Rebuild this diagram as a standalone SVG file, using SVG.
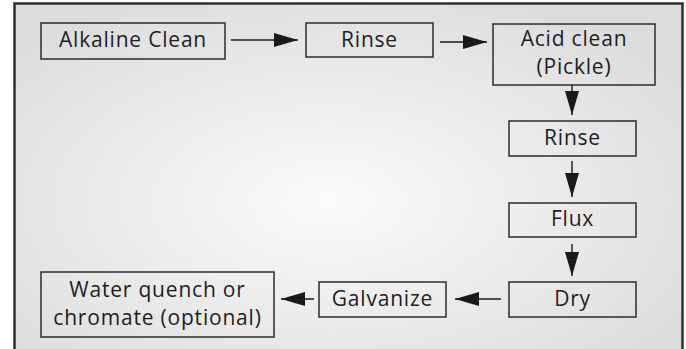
<svg xmlns="http://www.w3.org/2000/svg" width="686" height="349" viewBox="0 0 686 349">
<defs>
<radialGradient id="bg" cx="0.47" cy="0.55" r="0.62">
<stop offset="0" stop-color="#fbfbfb"/>
<stop offset="1" stop-color="#dddddd"/>
</radialGradient>
<marker id="ah" markerUnits="userSpaceOnUse" markerWidth="24" markerHeight="14" refX="24" refY="7" orient="auto">
<path d="M0,0 L24,7 L0,14 Z" fill="#1a1a1a"/>
</marker>
<style>
.box{fill:none;stroke:#2b2b2b;stroke-width:1.5}
.t{font-family:"Open Sans","Noto Sans","DejaVu Sans",sans-serif;font-size:21px;letter-spacing:0.8px;fill:#1e1e1e;text-anchor:middle}
.c{stroke:#1a1a1a;stroke-width:1.4;fill:none;marker-end:url(#ah)}
</style>
</defs>
<rect width="686" height="349" fill="#ffffff"/>
<rect x="14.5" y="3.5" width="668" height="360" fill="url(#bg)" stroke="#2e2e2e" stroke-width="2.5"/>
<g id="connectors">
<line class="c" x1="231" y1="40" x2="298" y2="40"/>
<line class="c" x1="440" y1="42" x2="487" y2="42"/>
<line class="c" x1="572" y1="85" x2="572" y2="115"/>
<line class="c" x1="572" y1="161" x2="572" y2="197"/>
<line class="c" x1="572" y1="244" x2="572" y2="276"/>
<line class="c" x1="501" y1="299" x2="455" y2="299"/>
<line class="c" x1="314" y1="299" x2="281" y2="299"/>
</g>
<g id="alkaline-clean">
<rect class="box" x="41" y="23" width="184" height="36"/>
<text class="t" x="133" y="47">Alkaline Clean</text>
</g>
<g id="rinse-1">
<rect class="box" x="306" y="23" width="127" height="34"/>
<text class="t" x="369.5" y="47">Rinse</text>
</g>
<g id="acid-clean">
<rect class="box" x="493" y="24" width="162" height="61"/>
<text class="t" x="574" y="46">Acid clean</text>
<text class="t" x="574" y="74">(Pickle)</text>
</g>
<g id="rinse-2">
<rect class="box" x="509" y="121" width="127" height="35"/>
<text class="t" x="572.5" y="145">Rinse</text>
</g>
<g id="flux">
<rect class="box" x="509" y="203" width="127" height="34"/>
<text class="t" x="572.5" y="226">Flux</text>
</g>
<g id="dry">
<rect class="box" x="509" y="282" width="127" height="35"/>
<text class="t" x="572.5" y="306">Dry</text>
</g>
<g id="galvanize">
<rect class="box" x="319" y="282" width="127" height="35"/>
<text class="t" x="382.5" y="306">Galvanize</text>
</g>
<g id="water-quench">
<rect class="box" x="41" y="272" width="233" height="65"/>
<text class="t" x="157.5" y="297">Water quench or</text>
<text class="t" x="157.5" y="325">chromate (optional)</text>
</g>
</svg>
